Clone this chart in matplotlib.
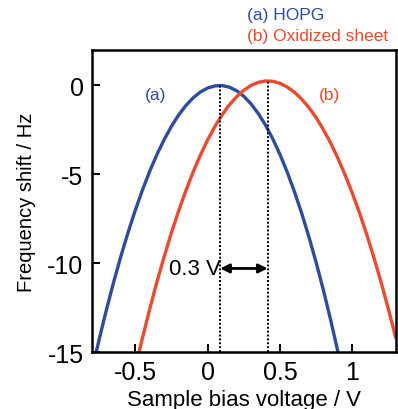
import matplotlib

matplotlib.use("Agg")
from matplotlib import pyplot as plt  # noqa: E402

# bias sweeps (V, Hz)
bias_a = [-0.80, -0.75, -0.70, -0.65, -0.60, -0.55, -0.50, -0.45, -0.40, -0.35,
          -0.30, -0.25, -0.20, -0.15, -0.10, -0.05, 0.00, 0.05, 0.10, 0.15,
          0.20, 0.25, 0.30, 0.35, 0.40, 0.45, 0.50, 0.55, 0.60, 0.65,
          0.70, 0.75, 0.80, 0.85, 0.90, 0.95]
shift_a = [-16.06, -14.29, -12.63, -11.07, -9.62, -8.27, -7.02, -5.87, -4.82, -3.88,
           -3.04, -2.30, -1.66, -1.13, -0.70, -0.37, -0.15, -0.03, -0.01, -0.10,
           -0.30, -0.61, -1.04, -1.58, -2.23, -3.00, -3.88, -4.87, -5.97, -7.18,
           -8.51, -9.95, -11.50, -13.17, -14.95, -16.84]

bias_b = [-0.50, -0.45, -0.40, -0.35, -0.30, -0.25, -0.20, -0.15, -0.10, -0.05,
          0.00, 0.05, 0.10, 0.15, 0.20, 0.25, 0.30, 0.35, 0.40, 0.45,
          0.50, 0.55, 0.60, 0.65, 0.70, 0.75, 0.80, 0.85, 0.90, 0.95,
          1.00, 1.05, 1.10, 1.15, 1.20, 1.25, 1.30]
shift_b = [-15.91, -14.19, -12.57, -11.04, -9.62, -8.28, -7.05, -5.91, -4.87, -3.92,
           -3.07, -2.32, -1.66, -1.10, -0.64, -0.28, 0.00, 0.17, 0.25, 0.23,
           0.12, -0.09, -0.38, -0.77, -1.24, -1.81, -2.48, -3.23, -4.08, -5.02,
           -6.05, -7.17, -8.38, -9.69, -11.09, -12.58, -14.16]

peak_a = (0.087, 0.0)
peak_b = (0.415, 0.25)
gap_label = "0.3 V"
legend_labels = ["(a) HOPG", "(b) Oxidized sheet"]
x_ticks = [-0.5, 0, 0.5, 1]
x_tick_labels = ["-0.5", "0", "0.5", "1"]
y_ticks = [0, -5, -10, -15]
y_tick_labels = ["0", "-5", "-10", "-15"]

blue = "#2e4c9d"
red = "#ea4a2d"

plt.rcParams["font.family"] = ["Liberation Sans", "DejaVu Sans"]

figure = plt.figure(figsize=(3.98, 4.10), dpi=100)
axis = figure.add_axes([0.231, 0.139, 0.763, 0.737])

axis.plot(bias_a, shift_a, color=blue, linewidth=2.4)
axis.plot(bias_b, shift_b, color=red, linewidth=2.4)

bottom = -15
axis.vlines([peak_a[0]], bottom, peak_a[1], colors="black",
            linestyles=(0, (1, 1)), linewidth=1.4)
axis.vlines([peak_b[0]], bottom, peak_b[1], colors="black",
            linestyles=(0, (1, 1)), linewidth=1.4)

arrow_y = -10.3
axis.annotate("", xy=(peak_a[0], arrow_y), xytext=(peak_b[0], arrow_y),
              arrowprops=dict(arrowstyle="<|-|>", color="black", lw=2.0,
                              shrinkA=0, shrinkB=0, mutation_scale=13))
axis.text(peak_a[0] + 0.005, arrow_y, gap_label, ha="right", va="center",
          fontsize=16)

axis.text(-0.36, -0.5, "(a)", color=blue, ha="center", va="center", fontsize=12.5)
axis.text(0.84, -0.5, "(b)", color=red, ha="center", va="center", fontsize=12.5)

figure.text(0.621, 0.963, legend_labels[0], color=blue, ha="left",
            va="center", fontsize=12.5)
figure.text(0.621, 0.911, legend_labels[1], color=red, ha="left",
            va="center", fontsize=12.5)

axis.set_xlim(-0.8, 1.3)
axis.set_ylim(-15, 2)
axis.set_xticks(x_ticks, labels=x_tick_labels)
axis.set_yticks(y_ticks, labels=y_tick_labels)
axis.tick_params(direction="in", length=6, width=1.4, labelsize=18, pad=6)
for spine in axis.spines.values():
    spine.set_linewidth(1.8)

axis.set_xlabel("Sample bias voltage / V", fontsize=16, labelpad=3)
axis.set_ylabel("Frequency shift / Hz", fontsize=14.5, labelpad=8)

figure.savefig("out.png", dpi=100)
plt.close(figure)
